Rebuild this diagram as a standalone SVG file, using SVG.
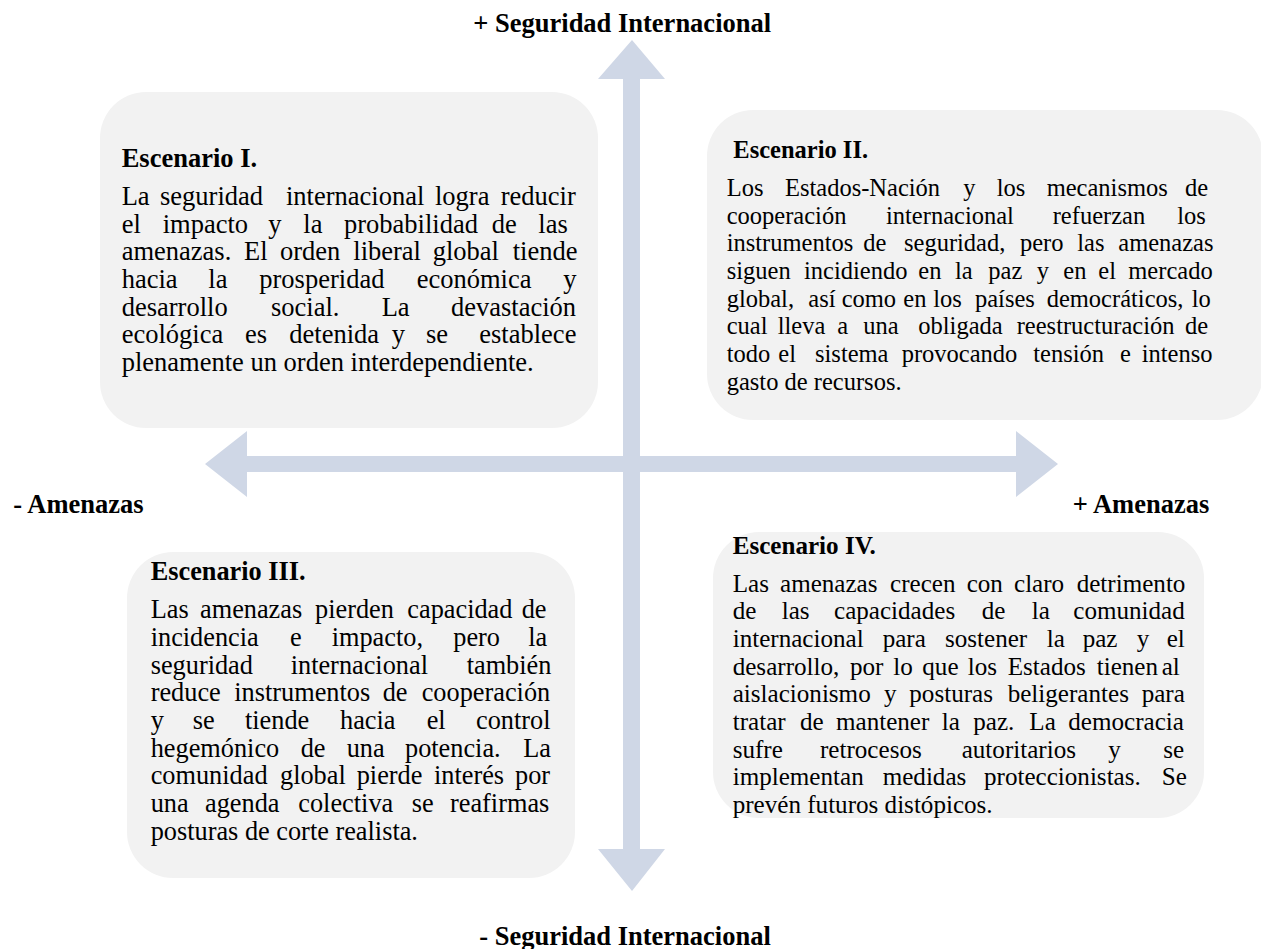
<svg xmlns="http://www.w3.org/2000/svg" width="1261" height="949" viewBox="0 0 1261 949">
<style>
.box{fill:#f2f2f2;}
.arrow{fill:#cfd7e6;}
text{font-family:"Liberation Serif","Times New Roman",serif;font-size:26.5px;fill:#000;}
#escenario-2 text{font-size:24.5px;}
#escenario-3 text{font-size:26.3px;}
#escenario-4 text{font-size:25.1px;}
.b{font-weight:bold;}
</style>
<rect width="1261" height="949" fill="#ffffff"/>
<g id="connectors">
<polygon class="arrow" points="632,40 665,79 640,79 640,849 665,849 632,891 598,849 623,849 623,79 598,79"/>
<polygon class="arrow" points="205,464 247,431 247,456 1016,456 1016,431 1058,464 1016,497 1016,472 247,472 247,497"/>
</g>
<g id="axis-labels">
<text class="b" x="473.3" y="31.7">+ Seguridad Internacional</text>
<text class="b" x="479.3" y="945">- Seguridad Internacional</text>
<text class="b" x="13.3" y="513.3">- Amenazas</text>
<text class="b" x="1072.7" y="513.3">+ Amenazas</text>
</g>
<g id="escenario-1">
<rect class="box" x="100" y="92" width="498" height="336" rx="46" ry="46"/>
<text class="b" x="121.7" y="167">Escenario I.</text>
<text y="205"><tspan x="121.7">La</tspan><tspan x="160">seguridad</tspan><tspan x="286">internacional</tspan><tspan x="435">logra</tspan><tspan x="500.7">reducir</tspan></text>
<text y="232.7"><tspan x="121.7">el</tspan><tspan x="162.7">impacto</tspan><tspan x="268.3">y</tspan><tspan x="303.3">la</tspan><tspan x="344">probabilidad</tspan><tspan x="491.7">de</tspan><tspan x="538.3">las</tspan></text>
<text y="260.3"><tspan x="121.7">amenazas.</tspan><tspan x="244">El</tspan><tspan x="280">orden</tspan><tspan x="353.3">liberal</tspan><tspan x="432.7">global</tspan><tspan x="512.7">tiende</tspan></text>
<text y="288"><tspan x="121.7">hacia</tspan><tspan x="208.3">la</tspan><tspan x="259.3">prosperidad</tspan><tspan x="416.7">económica</tspan><tspan x="563.3">y</tspan></text>
<text y="315.7"><tspan x="121.7">desarrollo</tspan><tspan x="271">social.</tspan><tspan x="381.7">La</tspan><tspan x="451">devastación</tspan></text>
<text y="343.3"><tspan x="121.7">ecológica</tspan><tspan x="245">es</tspan><tspan x="289.3">detenida</tspan><tspan x="391.7">y</tspan><tspan x="426">se</tspan><tspan x="479.3">establece</tspan></text>
<text x="121.7" y="371">plenamente un orden interdependiente.</text>
</g>
<g id="escenario-2">
<rect class="box" x="707" y="110" width="556" height="310" rx="46" ry="46"/>
<text class="b" x="733.3" y="158.3">Escenario II.</text>
<text y="196"><tspan x="726.7">Los</tspan><tspan x="785">Estados-Nación</tspan><tspan x="963.3">y</tspan><tspan x="996.7">los</tspan><tspan x="1046.7">mecanismos</tspan><tspan x="1185">de</tspan></text>
<text y="223.7"><tspan x="726.7">cooperación</tspan><tspan x="886">internacional</tspan><tspan x="1052.7">refuerzan</tspan><tspan x="1177.3">los</tspan></text>
<text y="251.3"><tspan x="726.7">instrumentos</tspan><tspan x="863.3">de</tspan><tspan x="904">seguridad,</tspan><tspan x="1020">pero</tspan><tspan x="1077.3">las</tspan><tspan x="1118.3">amenazas</tspan></text>
<text y="279"><tspan x="726.7">siguen</tspan><tspan x="804">incidiendo</tspan><tspan x="918.3">en</tspan><tspan x="955">la</tspan><tspan x="988.3">paz</tspan><tspan x="1036.7">y</tspan><tspan x="1063.3">en</tspan><tspan x="1098.3">el</tspan><tspan x="1128.3">mercado</tspan></text>
<text y="306.7"><tspan x="726.7">global,</tspan><tspan x="808.3">así</tspan><tspan x="841.7">como</tspan><tspan x="903.3">en</tspan><tspan x="933.3">los</tspan><tspan x="975">países</tspan><tspan x="1046.7">democráticos,</tspan><tspan x="1191.7">lo</tspan></text>
<text y="334.3"><tspan x="726.7">cual</tspan><tspan x="777.7">lleva</tspan><tspan x="837.3">a</tspan><tspan x="863.3">una</tspan><tspan x="918.3">obligada</tspan><tspan x="1016.7">reestructuración</tspan><tspan x="1185">de</tspan></text>
<text y="362"><tspan x="726.7">todo</tspan><tspan x="778.3">el</tspan><tspan x="815">sistema</tspan><tspan x="901.7">provocando</tspan><tspan x="1033.3">tensión</tspan><tspan x="1120">e</tspan><tspan x="1141.7">intenso</tspan></text>
<text x="726.7" y="389.7">gasto de recursos.</text>
</g>
<g id="escenario-3">
<rect class="box" x="127" y="552" width="448" height="326" rx="46" ry="46"/>
<text class="b" x="150.7" y="580">Escenario III.</text>
<text y="618.3"><tspan x="150.7">Las</tspan><tspan x="200">amenazas</tspan><tspan x="315">pierden</tspan><tspan x="407.3">capacidad</tspan><tspan x="521.7">de</tspan></text>
<text y="646"><tspan x="150.7">incidencia</tspan><tspan x="290">e</tspan><tspan x="331.7">impacto,</tspan><tspan x="453.3">pero</tspan><tspan x="528.3">la</tspan></text>
<text y="673.7"><tspan x="150.7">seguridad</tspan><tspan x="290.7">internacional</tspan><tspan x="466.7">también</tspan></text>
<text y="701.3"><tspan x="150.7">reduce</tspan><tspan x="234.3">instrumentos</tspan><tspan x="382.7">de</tspan><tspan x="421.7">cooperación</tspan></text>
<text y="729"><tspan x="150.7">y</tspan><tspan x="192.7">se</tspan><tspan x="245">tiende</tspan><tspan x="340">hacia</tspan><tspan x="426.7">el</tspan><tspan x="476">control</tspan></text>
<text y="756.7"><tspan x="150.7">hegemónico</tspan><tspan x="300.7">de</tspan><tspan x="346.7">una</tspan><tspan x="405">potencia.</tspan><tspan x="523.3">La</tspan></text>
<text y="784.3"><tspan x="150.7">comunidad</tspan><tspan x="280">global</tspan><tspan x="356.7">pierde</tspan><tspan x="434">interés</tspan><tspan x="515">por</tspan></text>
<text y="812"><tspan x="150.7">una</tspan><tspan x="205">agenda</tspan><tspan x="298.3">colectiva</tspan><tspan x="411.7">se</tspan><tspan x="450">reafirmas</tspan></text>
<text x="150.7" y="839.7">posturas de corte realista.</text>
</g>
<g id="escenario-4">
<rect class="box" x="713" y="532" width="491" height="286" rx="46" ry="46"/>
<text class="b" x="732.7" y="554">Escenario IV.</text>
<text y="591.7"><tspan x="732.7">Las</tspan><tspan x="780">amenazas</tspan><tspan x="890">crecen</tspan><tspan x="966.7">con</tspan><tspan x="1014">claro</tspan><tspan x="1076.7">detrimento</tspan></text>
<text y="619.3"><tspan x="732.7">de</tspan><tspan x="781.7">las</tspan><tspan x="834">capacidades</tspan><tspan x="981.7">de</tspan><tspan x="1031.7">la</tspan><tspan x="1073.3">comunidad</tspan></text>
<text y="647"><tspan x="732.7">internacional</tspan><tspan x="882.7">para</tspan><tspan x="945">sostener</tspan><tspan x="1046.7">la</tspan><tspan x="1082.7">paz</tspan><tspan x="1136.7">y</tspan><tspan x="1166.7">el</tspan></text>
<text y="674.7"><tspan x="732.7">desarrollo,</tspan><tspan x="850">por</tspan><tspan x="893.3">lo</tspan><tspan x="922.3">que</tspan><tspan x="967.7">los</tspan><tspan x="1007.7">Estados</tspan><tspan x="1096.7">tienen</tspan><tspan x="1161.7">al</tspan></text>
<text y="702.3"><tspan x="732.7">aislacionismo</tspan><tspan x="884">y</tspan><tspan x="909.3">posturas</tspan><tspan x="1007.7">beligerantes</tspan><tspan x="1141.7">para</tspan></text>
<text y="730"><tspan x="732.7">tratar</tspan><tspan x="800">de</tspan><tspan x="836">mantener</tspan><tspan x="941.7">la</tspan><tspan x="973.3">paz.</tspan><tspan x="1029.3">La</tspan><tspan x="1068.3">democracia</tspan></text>
<text y="757.7"><tspan x="732.7">sufre</tspan><tspan x="820">retrocesos</tspan><tspan x="961.7">autoritarios</tspan><tspan x="1108.3">y</tspan><tspan x="1163.3">se</tspan></text>
<text y="785.3"><tspan x="732.7">implementan</tspan><tspan x="882.7">medidas</tspan><tspan x="984">proteccionistas.</tspan><tspan x="1161.7">Se</tspan></text>
<text x="732.7" y="813">prevén futuros distópicos.</text>
</g>
</svg>
